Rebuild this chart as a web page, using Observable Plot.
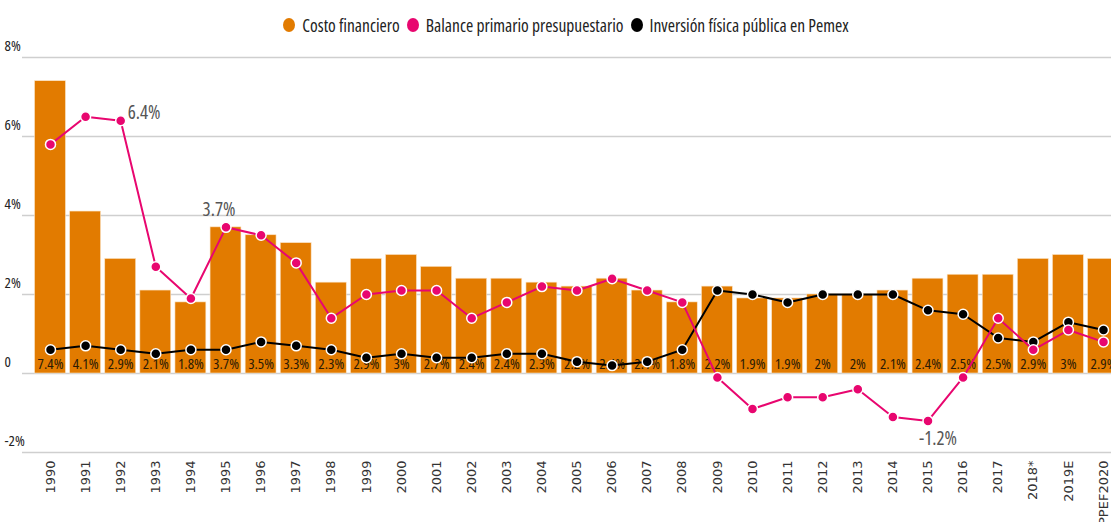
<!DOCTYPE html>
<html><head><meta charset="utf-8">
<script src="https://cdn.jsdelivr.net/npm/d3@7"></script>
<script src="https://cdn.jsdelivr.net/npm/@observablehq/plot@0.6"></script>
<style>
html,body{margin:0;padding:0;background:#fff;overflow:hidden;width:1111px;height:522px;}
#legend{height:40px;display:flex;justify-content:center;align-items:center;font-family:"Open Sans",sans-serif;font-stretch:75%;font-size:17.5px;color:#222;padding-left:14px;padding-top:10px;box-sizing:border-box;}
.sw{display:inline-block;width:12px;height:14px;border-radius:50%;margin:0 7px 0 7px;}
svg text.cond, .cond text{font-stretch:75%;}
</style></head>
<body>
<div id="legend"></div>
<div id="chart"></div>
<script>
const years = ["1990","1991","1992","1993","1994","1995","1996","1997","1998","1999","2000","2001","2002","2003","2004","2005","2006","2007","2008","2009","2010","2011","2012","2013","2014","2015","2016","2017","2018*","2019E","PPEF2020"];
const costoFinanciero = [7.4,4.1,2.9,2.1,1.8,3.7,3.5,3.3,2.3,2.9,3,2.7,2.4,2.4,2.3,2.2,2.4,2.1,1.8,2.2,1.9,1.9,2,2,2.1,2.4,2.5,2.5,2.9,3,2.9];
const balancePrimario = [5.8,6.5,6.4,2.7,1.9,3.7,3.5,2.8,1.4,2.0,2.1,2.1,1.4,1.8,2.2,2.1,2.4,2.1,1.8,-0.1,-0.9,-0.6,-0.6,-0.4,-1.1,-1.2,-0.1,1.4,0.6,1.1,0.8];
const inversionPemex = [0.6,0.7,0.6,0.5,0.6,0.6,0.8,0.7,0.6,0.4,0.5,0.4,0.4,0.5,0.5,0.3,0.2,0.3,0.6,2.1,2.0,1.8,2.0,2.0,2.0,1.6,1.5,0.9,0.8,1.3,1.1];
const seriesNames = ["Costo financiero","Balance primario presupuestario","Inversión física pública en Pemex"];
const seriesColors = ["#E27B00","#E8066F","#000000"];
const yTicks = [-2,0,2,4,6,8];
const annotatedYears = ["1992","1995","2015"];

const cond = '"Open Sans",sans-serif';

const legend = document.getElementById("legend");
seriesNames.forEach((n,i)=>{
  const s=document.createElement("span");s.className="sw";s.style.background=seriesColors[i];legend.appendChild(s);
  const t=document.createElement("span");t.textContent=n;legend.appendChild(t);
});

const rows = years.map((y,i)=>({year:y, costo:costoFinanciero[i], balance:balancePrimario[i], inversion:inversionPemex[i]}));
const ann = rows.filter(d=>annotatedYears.includes(d.year));
const fmt = v => (v===0?"0":v+"%");

const chart = Plot.plot({
  width: 1121, height: 487,
  marginTop: 17, marginBottom: 75, marginLeft: 22, marginRight: 0,
  style: {fontFamily: cond, background: "#fff", overflow: "visible", maxWidth: "none"},
  x: {type: "band", domain: years, range: [32.45, 1120.55], paddingInner: 0.12, paddingOuter: 0.06, round: false, label: null},
  y: {domain: [-2, 8], label: null},
  marks: [
    Plot.ruleY(yTicks, {stroke: "#cfcfcf", strokeWidth: 1.5}),
    Plot.barY(rows, {x: "year", y: "costo", fill: seriesColors[0], stroke: "#fbe3c4", strokeWidth: 0.6}),
    Plot.text(rows, {x: "year", y: 0, text: d => d.costo + "%", dy: -9, fill: "#2a1a05", fontSize: 15, className: "cond"}),
    Plot.line(rows, {x: "year", y: "inversion", stroke: seriesColors[2], strokeWidth: 2}),
    Plot.dot(rows, {x: "year", y: "inversion", fill: seriesColors[2], stroke: "#fff", strokeWidth: 1.5, r: 5}),
    Plot.line(rows, {x: "year", y: "balance", stroke: seriesColors[1], strokeWidth: 2}),
    Plot.dot(rows, {x: "year", y: "balance", fill: seriesColors[1], stroke: "#fff", strokeWidth: 1.5, r: 5}),
    Plot.text(ann.filter(d=>d.year==="1992"), {x: "year", y: "balance", text: d => d.balance + "%", textAnchor: "start", dx: 7, dy: -8, fill: "#555", fontSize: 19, className: "cond"}),
    Plot.text(ann.filter(d=>d.year==="1995"), {x: "year", y: "balance", text: d => d.balance + "%", dx: -7, dy: -17, fill: "#555", fontSize: 19, className: "cond"}),
    Plot.text(ann.filter(d=>d.year==="2015"), {x: "year", y: "balance", text: d => d.balance + "%", dx: 10, dy: 18, fill: "#555", fontSize: 19, className: "cond"}),
    Plot.axisY({ticks: yTicks, tickFormat: fmt, tickSize: 0, textAnchor: "start", dx: -9, dy: -11, fontSize: 15, fill: "#222", className: "cond"}),
    Plot.axisX({tickRotate: -90, tickSize: 0, tickPadding: 8, fontSize: 13, fontFamily: '"DejaVu Sans",sans-serif', fill: "#333", label: null})
  ]
});
chart.style.maxWidth = "none";
document.getElementById("chart").appendChild(chart);
</script>
</body></html>
